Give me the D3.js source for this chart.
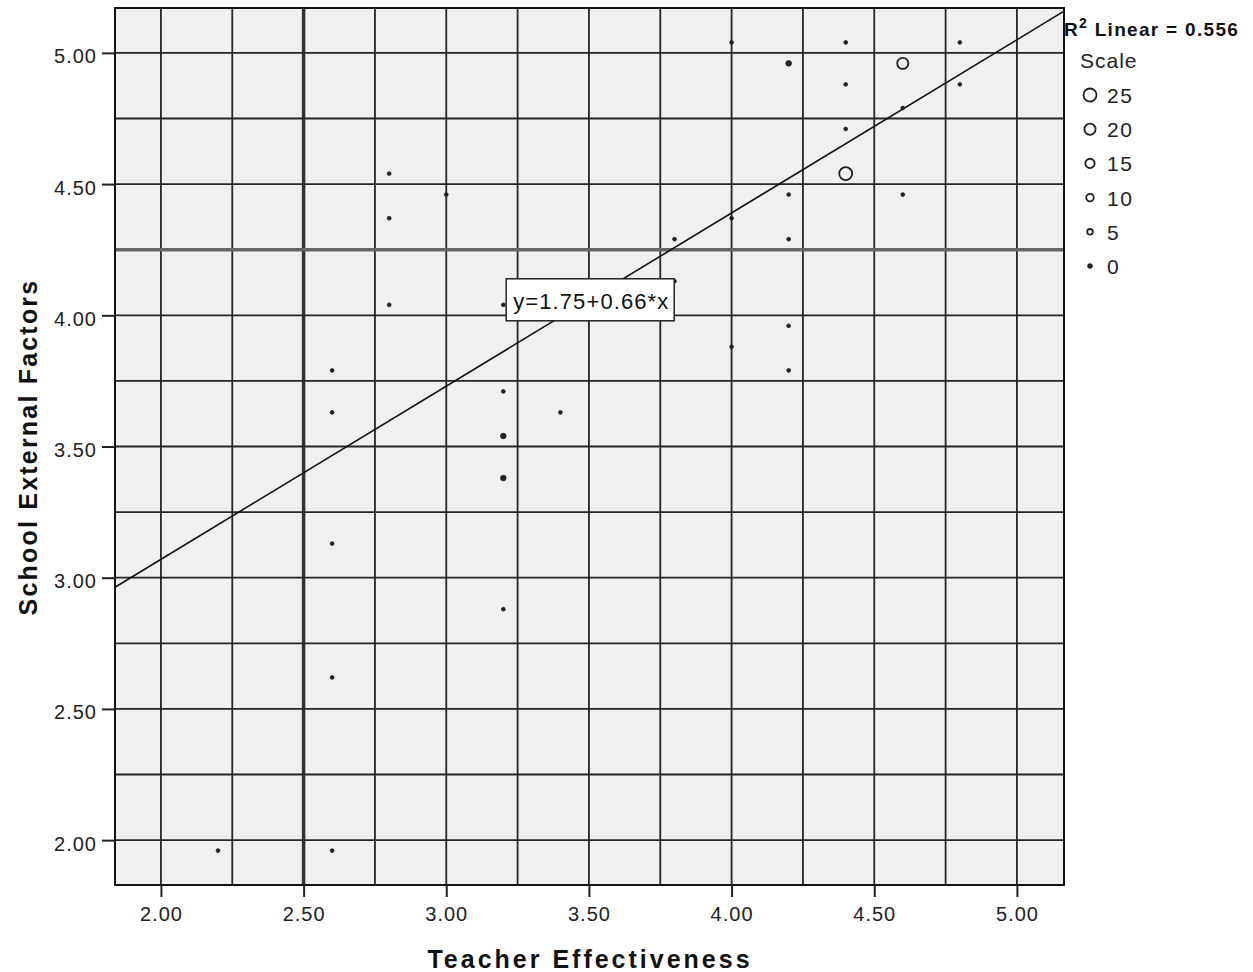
<!DOCTYPE html>
<html lang="en">
<head>
<meta charset="utf-8">
<title>Teacher Effectiveness vs School External Factors</title>
<script src="https://cdn.jsdelivr.net/npm/d3@7"></script>
<style>
  body { margin: 0; background: #fff; }
  text { font-family: "Liberation Sans", Arial, sans-serif; }
</style>
</head>
<body>
<script>
// data
var teacher = [2.2, 2.6, 2.6, 2.6, 2.6, 2.6, 2.8, 2.8, 2.8, 3.0,
               3.2, 3.2, 3.2, 3.2, 3.2, 3.4, 3.8, 3.8, 4.0, 4.0,
               4.0, 4.2, 4.2, 4.2, 4.2, 4.2, 4.4, 4.4, 4.4, 4.4,
               4.6, 4.6, 4.6, 4.8, 4.8];
var school  = [1.96, 1.96, 2.62, 3.13, 3.63, 3.79, 4.54, 4.37, 4.04, 4.46,
               4.04, 3.71, 3.54, 3.38, 2.88, 3.63, 4.29, 4.13, 5.04, 4.37,
               3.88, 4.96, 4.46, 4.29, 3.96, 3.79, 5.04, 4.88, 4.71, 4.54,
               4.96, 4.79, 4.46, 5.04, 4.88];
var scaleVal = [0, 0, 0, 0, 0, 0, 0, 0, 0, 0,
                0, 0, 5, 5, 0, 0, 0, 0, 0, 0,
                0, 5, 0, 0, 0, 0, 0, 0, 0, 25,
                20, 0, 0, 0, 0];
var xTicks = [2.00, 2.50, 3.00, 3.50, 4.00, 4.50, 5.00];
var yTicks = [2.00, 2.50, 3.00, 3.50, 4.00, 4.50, 5.00];
var legendSizes = [25, 20, 15, 10, 5, 0];
var intercept = 1.75, slope = 0.66, r2 = 0.556;

var w = 1253, h = 972;
var pLeft = 115, pTop = 8, pRight = 1064, pBottom = 885;

var svg = d3.select("body").append("svg")
    .attr("width", w)
    .attr("height", h);

var x = d3.scaleLinear().domain([1.839, 5.165]).range([pLeft, pRight]);
var y = d3.scaleLinear().domain([1.829, 5.171]).range([pBottom, pTop]);
var r = d3.scaleLinear().domain([0, 25]).range([1.9, 6.5]);

// plot background
svg.append("rect")
   .attr("x", pLeft).attr("y", pTop)
   .attr("width", pRight - pLeft).attr("height", pBottom - pTop)
   .attr("fill", "#f0f0f0");

// grid every 0.25
var grid = d3.range(2, 5.001, 0.25);
svg.append("g").selectAll("line")
   .data(grid).enter().append("line")
   .attr("x1", function(d) { return x(d); })
   .attr("x2", function(d) { return x(d); })
   .attr("y1", pTop).attr("y2", pBottom)
   .attr("stroke", function(d) { return d === 2.5 ? "#333" : "#262626"; })
   .attr("stroke-width", function(d) { return d === 2.5 ? 3.5 : 1.8; });

svg.append("g").selectAll("line")
   .data(grid).enter().append("line")
   .attr("y1", function(d) { return y(d); })
   .attr("y2", function(d) { return y(d); })
   .attr("x1", pLeft).attr("x2", pRight)
   .attr("stroke", function(d) { return d === 4.25 ? "#666" : "#262626"; })
   .attr("stroke-width", function(d) { return d === 4.25 ? 3.5 : 1.8; });

// frame
svg.append("rect")
   .attr("x", pLeft).attr("y", pTop)
   .attr("width", pRight - pLeft).attr("height", pBottom - pTop)
   .attr("fill", "none").attr("stroke", "#111").attr("stroke-width", 2);

// axes
var xAxis = d3.axisBottom(x).tickValues(xTicks).tickFormat(d3.format(".2f"))
    .tickSize(12).tickSizeOuter(0).tickPadding(10);
var yAxis = d3.axisLeft(y).tickValues(yTicks).tickFormat(d3.format(".2f"))
    .tickSize(13).tickSizeOuter(0).tickPadding(5);

var gx = svg.append("g").attr("transform", "translate(0," + pBottom + ")").call(xAxis);
var gy = svg.append("g").attr("transform", "translate(" + pLeft + ",0)").call(yAxis);
[gx, gy].forEach(function(g) {
  g.select(".domain").remove();
  g.selectAll(".tick line").attr("stroke", "#222").attr("stroke-width", 2);
  g.selectAll(".tick text").attr("fill", "#222")
    .style("font-size", "20px").style("letter-spacing", "1px")
    .style("font-family", "'Liberation Sans', Arial, sans-serif");
});
gy.selectAll(".tick text").attr("dy", "0.5em");

// regression line
var xd = x.domain();
svg.append("line")
   .attr("x1", x(xd[0])).attr("y1", y(intercept + slope * xd[0]))
   .attr("x2", x(xd[1])).attr("y2", y(intercept + slope * xd[1]))
   .attr("stroke", "#111").attr("stroke-width", 1.6);

// points
svg.append("g").selectAll("circle")
   .data(teacher).enter().append("circle")
   .attr("cx", function(d) { return x(d); })
   .attr("cy", function(d, i) { return y(school[i]); })
   .attr("r", function(d, i) { return r(scaleVal[i]); })
   .attr("fill", function(d, i) { return scaleVal[i] <= 5 ? "#222" : "none"; })
   .attr("stroke", "#222")
   .attr("stroke-width", function(d, i) { return scaleVal[i] <= 5 ? 0.8 : 1.8; });

// equation label
var eq = svg.append("g").attr("transform", "translate(" + (x(3.21)) + "," + (y(4.04) - 26) + ")");
eq.append("rect")
  .attr("width", 168).attr("height", 42)
  .attr("fill", "#fff").attr("stroke", "#222").attr("stroke-width", 1.5);
eq.append("text")
  .attr("x", 7).attr("y", 30)
  .style("font-size", "22px").style("letter-spacing", "1.1px")
  .attr("fill", "#111")
  .text("y=" + intercept.toFixed(2) + "+" + slope.toFixed(2) + "*x");

// R2 label
var rt = svg.append("text")
   .attr("x", 1064).attr("y", 36)
   .style("font-size", "19px").style("font-weight", "bold").style("letter-spacing", "1.3px")
   .attr("fill", "#111");
rt.append("tspan").text("R");
rt.append("tspan").attr("dy", -8).style("font-size", "14px").text("2");
rt.append("tspan").attr("dy", 8).text(" Linear = " + r2.toFixed(3));

// size legend
svg.append("text")
   .attr("x", 1080).attr("y", 68)
   .style("font-size", "21px").style("letter-spacing", "1px")
   .attr("fill", "#222")
   .text("Scale");

var leg = svg.append("g").selectAll("g")
   .data(legendSizes).enter().append("g")
   .attr("transform", function(d, i) { return "translate(1090," + (95 + i * 34.2) + ")"; });
leg.append("circle")
   .attr("r", function(d) { return r(d); })
   .attr("fill", function(d) { return d === 0 ? "#222" : "none"; })
   .attr("stroke", "#222")
   .attr("stroke-width", 1.8);
leg.append("text")
   .attr("x", 17).attr("y", 8)
   .style("font-size", "21px").style("letter-spacing", "1.5px")
   .attr("fill", "#222")
   .text(function(d) { return d; });

// axis titles
svg.append("text")
   .attr("x", 590).attr("y", 968)
   .attr("text-anchor", "middle")
   .style("font-size", "25px").style("font-weight", "bold").style("letter-spacing", "3px")
   .attr("fill", "#111")
   .text("Teacher Effectiveness");

svg.append("text")
   .attr("transform", "translate(37,447) rotate(-90)")
   .attr("text-anchor", "middle")
   .style("font-size", "25px").style("font-weight", "bold").style("letter-spacing", "2.2px")
   .attr("fill", "#111")
   .text("School External Factors");
</script>
</body>
</html>
